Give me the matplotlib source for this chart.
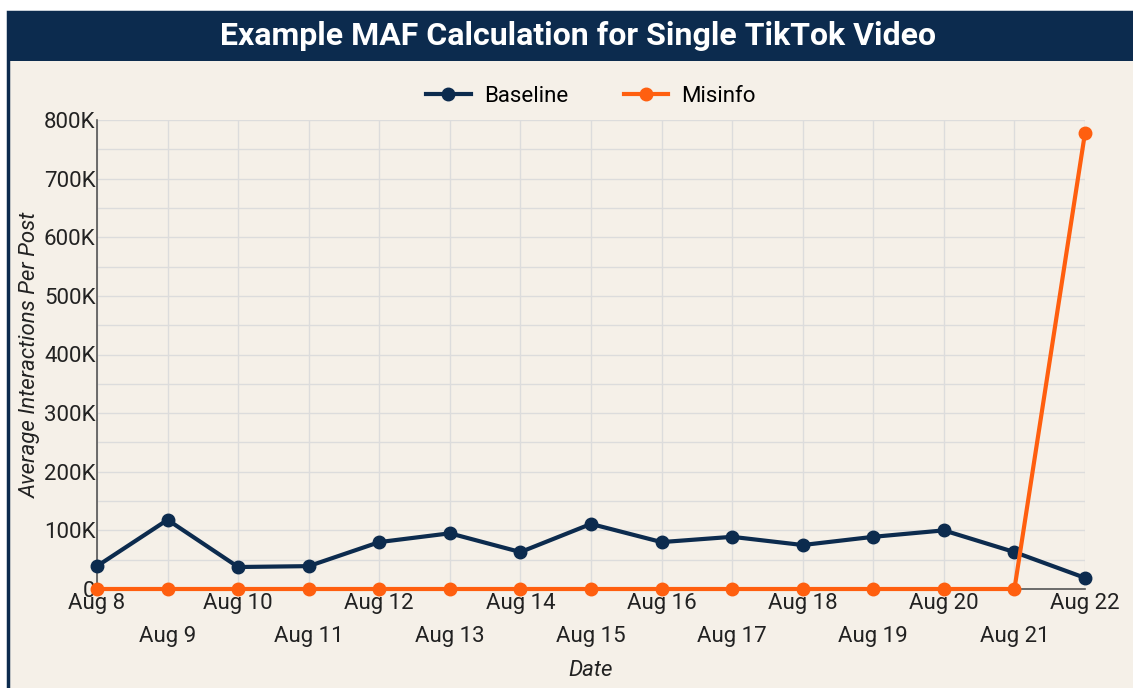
import matplotlib.pyplot as plt
from matplotlib.patches import Rectangle
from matplotlib.ticker import FuncFormatter, MultipleLocator

plt.rcParams['font.family'] = ['Roboto', 'DejaVu Sans']

# data
dates = ["Aug 8", "Aug 9", "Aug 10", "Aug 11", "Aug 12", "Aug 13", "Aug 14", "Aug 15",
         "Aug 16", "Aug 17", "Aug 18", "Aug 19", "Aug 20", "Aug 21", "Aug 22"]
baseline = [39000, 118000, 37500, 39000, 80000, 95000, 63000, 111000,
            80000, 89000, 75000, 89000, 100000, 63000, 19000]
misinfo = [0, 0, 0, 0, 0, 0, 0, 0, 0, 0, 0, 0, 0, 0, 778000]

navy = "#0c2b4e"
orange = "#ff5f0f"
bg = "#f5f0e8"

fig = plt.figure(figsize=(11.33, 6.88), dpi=100)
fig.patch.set_facecolor("white")

W, H = 1133, 688
# panel with navy border + title bar (behind the axes)
fig.add_artist(Rectangle((8 / W, -0.05), 1.2, 1.05 - 12 / H, transform=fig.transFigure,
                         facecolor=bg, edgecolor=navy, linewidth=2.5, zorder=-2))
fig.add_artist(Rectangle((8 / W, 1 - 61 / H), 1.2, 49 / H, transform=fig.transFigure,
                         facecolor=navy, edgecolor=navy, linewidth=0, zorder=-1))
fig.text(578 / W, 1 - 36 / H, "Example MAF Calculation for Single TikTok Video",
         color="white", fontsize=23, fontweight="bold", ha="center", va="center")

ax = fig.add_axes([97 / W, 1 - 589 / H, (1085 - 97) / W, (589 - 120) / H])
ax.set_facecolor(bg)

x = list(range(len(dates)))
ax.plot(x, baseline, color=navy, lw=3, marker="o", ms=9, label="Baseline", clip_on=False, zorder=3)
ax.plot(x, misinfo, color=orange, lw=3, marker="o", ms=9, label="Misinfo", clip_on=False, zorder=4)

ax.set_xlim(0, len(dates) - 1)
ax.set_ylim(0, 800000)
ax.set_xticks(x)
ax.set_xticklabels(dates)
for i, t in enumerate(ax.get_xticklabels()):
    if i % 2 == 1:
        t.set_y(-0.071)
ax.yaxis.set_major_locator(MultipleLocator(100000))
ax.yaxis.set_minor_locator(MultipleLocator(50000))
ax.yaxis.set_major_formatter(FuncFormatter(lambda v, p: "0" if v == 0 else f"{int(v / 1000)}K"))

ax.grid(True, which="both", color="#dcdcdc", lw=1)
ax.set_axisbelow(True)
ax.tick_params(axis="both", which="both", length=0, labelsize=16, colors="#222222", pad=3)
ax.tick_params(axis="y", pad=1)
for s in ["top", "right"]:
    ax.spines[s].set_visible(False)
for s in ["left", "bottom"]:
    ax.spines[s].set_color("#555555")
    ax.spines[s].set_linewidth(1.2)

ax.set_ylabel("Average Interactions Per Post", fontsize=16, style="italic", color="#222222", labelpad=2)
ax.set_xlabel("Date", fontsize=16, style="italic", color="#222222", labelpad=9)

ax.legend(loc="lower center", bbox_to_anchor=(0.5, 1.0), ncol=2, frameon=False,
          fontsize=16, handlelength=2.0, columnspacing=2.5, borderaxespad=0.2, handletextpad=0.6)

fig.savefig("out.png", dpi=100, facecolor=fig.get_facecolor())
